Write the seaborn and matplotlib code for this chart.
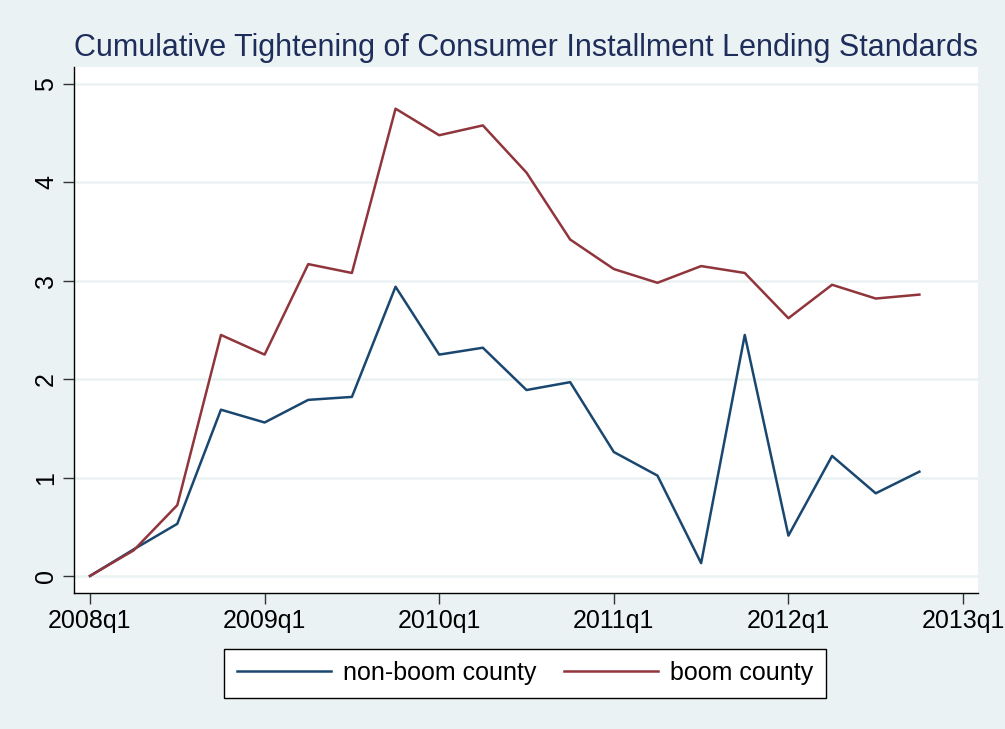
import pandas as pd
import seaborn as sns
import matplotlib.pyplot as plt

# Dados (trimestres 2008q1 .. 2012q4)
quarters = list(range(20))
non_boom = [0.0, 0.27, 0.53, 1.69, 1.56, 1.79, 1.82, 2.94, 2.25, 2.32,
            1.89, 1.97, 1.26, 1.02, 0.13, 2.45, 0.41, 1.22, 0.84, 1.06]
boom = [0.0, 0.26, 0.72, 2.45, 2.25, 3.17, 3.08, 4.75, 4.48, 4.58,
        4.10, 3.42, 3.12, 2.98, 3.15, 3.08, 2.62, 2.96, 2.82, 2.86]
tick_pos = [0, 4, 8, 12, 16, 20]
tick_labels = ["2008q1", "2009q1", "2010q1", "2011q1", "2012q1", "2013q1"]

df = pd.DataFrame({
    "q": quarters * 2,
    "valor": non_boom + boom,
    "grupo": ["non-boom county"] * 20 + ["boom county"] * 20,
})

bg = "#EAF2F3"
plt.rcParams["font.family"] = ["Liberation Sans", "DejaVu Sans"]

fig = plt.figure(figsize=(10.05, 7.29), dpi=100, facecolor=bg)
ax = fig.add_axes([0.0736, 0.1866, 0.8994, 0.7214])
ax.set_facecolor("white")

sns.lineplot(data=df, x="q", y="valor", hue="grupo",
             palette={"non-boom county": "#1A476F", "boom county": "#90353B"},
             linewidth=1.8, ax=ax, legend=False)

ax.set_xlim(-0.367, 20.34)
ax.set_ylim(-0.173, 5.173)
ax.set_yticks(range(6))
ax.set_xticks(tick_pos)
ax.set_xticklabels(tick_labels)
ax.set_yticklabels([str(i) for i in range(6)], rotation=90, va="center")
ax.tick_params(axis="both", labelsize=18, length=8, width=1, color="#333333")
ax.grid(axis="y", color=bg, linewidth=1.8)
ax.set_axisbelow(True)
ax.set_xlabel("")
ax.set_ylabel("")
for s in ["top", "right"]:
    ax.spines[s].set_visible(False)
for s in ["left", "bottom"]:
    ax.spines[s].set_color("black")
    ax.spines[s].set_linewidth(1)

ax.set_title("Cumulative Tightening of Consumer Installment Lending Standards",
             fontsize=22, color="#1E2D5A", pad=8)

handles = [plt.Line2D([], [], color="#1A476F", linewidth=1.8),
           plt.Line2D([], [], color="#90353B", linewidth=1.8)]
leg = fig.legend(handles, ["non-boom county", "boom county"], ncol=2,
                 loc="center", bbox_to_anchor=(0.5225, 0.0768), fontsize=18,
                 frameon=True, fancybox=False, edgecolor="black",
                 facecolor="white", framealpha=1,
                 handlelength=3.75, handletextpad=0.5, columnspacing=1.1,
                 borderpad=0.5, borderaxespad=0)
leg.get_frame().set_linewidth(1)

fig.savefig("out.png", dpi=100, facecolor=bg)
